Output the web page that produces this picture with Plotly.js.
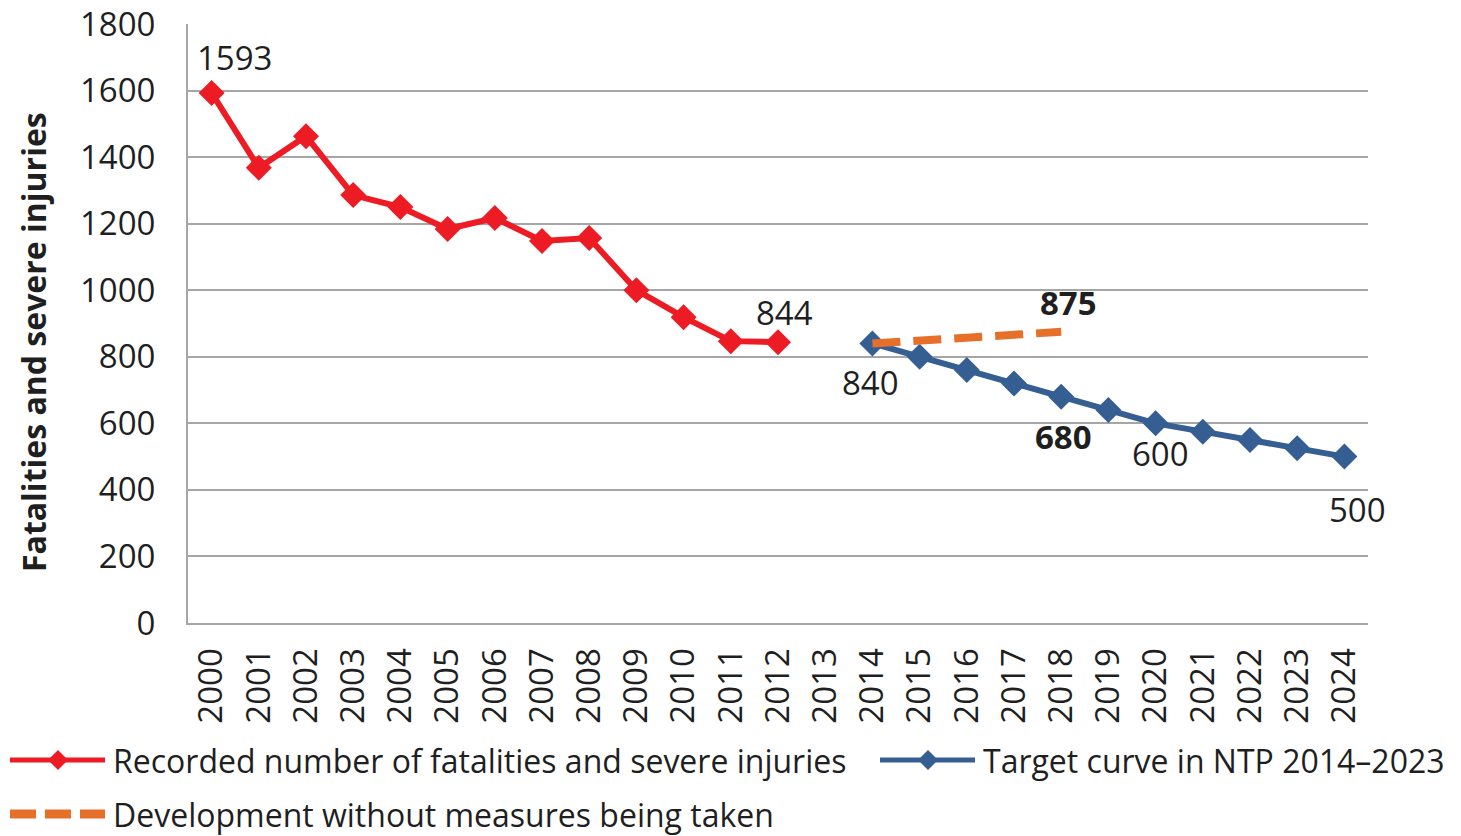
<!DOCTYPE html>
<html>
<head>
<meta charset="utf-8">
<script src="https://cdn.plot.ly/plotly-3.0.1.min.js"></script>
<style>html,body{margin:0;padding:0;background:#fff;}#chart{width:1461px;height:836px;}</style>
</head>
<body>
<div id="chart"></div>
<script>
// ---- data ----
var years = ["2000","2001","2002","2003","2004","2005","2006","2007","2008","2009","2010","2011","2012","2013","2014","2015","2016","2017","2018","2019","2020","2021","2022","2023","2024"];
var recordedYears = ["2000","2001","2002","2003","2004","2005","2006","2007","2008","2009","2010","2011","2012"];
var recordedValues = [1593, 1368, 1463, 1286, 1250, 1184, 1217, 1148, 1157, 1000, 919, 847, 844];
var targetYears = ["2014","2015","2016","2017","2018","2019","2020","2021","2022","2023","2024"];
var targetValues = [840, 800, 760, 720, 680, 640, 600, 575, 550, 525, 500];
var noMeasureYears = ["2014","2015","2016","2017","2018"];
var noMeasureValues = [840, 849, 857, 866, 875];
var yTicks = [0, 200, 400, 600, 800, 1000, 1200, 1400, 1600, 1800];
var seriesNames = ["Recorded number of fatalities and severe injuries", "Target curve in NTP 2014\u20132023", "Development without measures being taken"];
var yTitle = "Fatalities and severe injuries";

// ---- style ----
var RED = "#ED1C24", BLUE = "#355E92", ORANGE = "#E6702A", GRID = "#A6A6A6", TXT = "#1F1F1F";
var FONT = "Open Sans";
var FS = 33;

var W = 1461, H = 836;
var mL = 188, mR = 93, mT = 24, mB = 213;
var pw = W - mL - mR, ph = H - mT - mB;
function px(x){ return (x - mL) / pw; }
function py(y){ return (H - mB - y) / ph; }

var traces = [
  {x: recordedYears, y: recordedValues, type: "scatter", mode: "lines+markers", name: seriesNames[0],
   line: {color: RED, width: 6}, marker: {symbol: "diamond", size: 20, color: RED}, cliponaxis: false},
  {x: targetYears, y: targetValues, type: "scatter", mode: "lines+markers", name: seriesNames[1],
   line: {color: BLUE, width: 6}, marker: {symbol: "diamond", size: 20, color: BLUE}, cliponaxis: false},
  {x: noMeasureYears, y: noMeasureValues, type: "scatter", mode: "lines", name: seriesNames[2],
   line: {color: ORANGE, width: 8, dash: "28px,13px"}, cliponaxis: false}
];

function lab(xCat, y, dx, dy, bold){
  return {x: years.indexOf(xCat), y: y, xref: "x", yref: "y", text: bold ? "<b>" + y + "</b>" : String(y),
    showarrow: false, xshift: dx, yshift: dy, font: {family: FONT, size: FS, color: TXT}};
}
var ann = [
  lab(recordedYears[0], recordedValues[0], 23, 35),
  lab(recordedYears[12], recordedValues[12], 6, 30),
  lab(targetYears[0], targetValues[0], -2, -39),
  lab(noMeasureYears[4], noMeasureValues[4], 7, 29, true),
  lab(targetYears[4], targetValues[4], 2, -40, true),
  lab(targetYears[6], targetValues[6], 5, -30),
  lab(targetYears[10], targetValues[10], 13, -53)
];

// y-axis title
ann.push({x: px(33), y: py(342), xref: "paper", yref: "paper", xanchor: "center", yanchor: "middle",
  textangle: -90, text: "<b>" + yTitle + "</b>", showarrow: false, font: {family: FONT, size: 32, color: TXT}});

// custom legend
var shapes = [];
function legendItem(x0, yc, color, dashed, diamond, text){
  if (dashed) {
    shapes.push({type: "line", xref: "paper", yref: "paper", x0: px(x0), x1: px(x0 + 95), y0: py(yc), y1: py(yc),
      line: {color: color, width: 9, dash: "26px,9px"}});
  } else {
    shapes.push({type: "line", xref: "paper", yref: "paper", x0: px(x0), x1: px(x0 + 95), y0: py(yc), y1: py(yc),
      line: {color: color, width: 5}});
  }
  if (diamond) {
    var cx = x0 + 48, r = 10;
    var p = "M" + px(cx) + "," + py(yc - r) + " L" + px(cx + r) + "," + py(yc) + " L" + px(cx) + "," + py(yc + r) + " L" + px(cx - r) + "," + py(yc) + " Z";
    shapes.push({type: "path", xref: "paper", yref: "paper", path: p, fillcolor: color, line: {color: color, width: 0}});
  }
  ann.push({x: px(x0 + 101), y: py(yc), xref: "paper", yref: "paper", xanchor: "left", yanchor: "middle",
    text: text, showarrow: false, font: {family: FONT, size: 32, color: TXT}});
}
legendItem(10, 760, RED, false, true, seriesNames[0]);
legendItem(880, 760, BLUE, false, true, seriesNames[1]);
legendItem(10, 814, ORANGE, true, false, seriesNames[2]);

var layout = {
  width: W, height: H,
  margin: {l: mL, r: mR, t: mT, b: mB, pad: 0},
  paper_bgcolor: "#fff", plot_bgcolor: "#fff",
  showlegend: false,
  font: {family: FONT, size: FS, color: TXT},
  xaxis: {type: "category", categoryorder: "array", categoryarray: years, tickvals: years, ticktext: years,
    range: [-0.5, years.length - 0.5], tickangle: -90, showgrid: false, showline: true, linecolor: GRID, linewidth: 2,
    ticks: "", ticklabelstandoff: 10, zeroline: false, tickfont: {family: FONT, size: FS, color: TXT}, automargin: false},
  yaxis: {range: [0, 1800], tickvals: yTicks, ticktext: yTicks.map(String), showgrid: true, gridcolor: GRID, gridwidth: 2,
    showline: true, linecolor: GRID, linewidth: 2, zeroline: false, ticks: "", ticklabelstandoff: 24,
    tickfont: {family: FONT, size: FS, color: TXT}, automargin: false},
  annotations: ann,
  shapes: shapes
};

Plotly.newPlot("chart", traces, layout, {displayModeBar: false, staticPlot: true});
</script>
</body>
</html>
